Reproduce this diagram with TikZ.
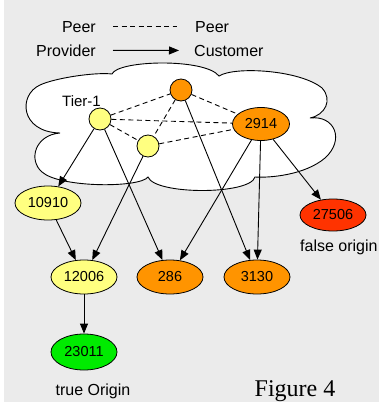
\documentclass[tikz,border=0pt]{standalone}
\usepackage{fontspec}
\setmainfont{Liberation Sans}
\newfontfamily\figfont{Liberation Serif}
\usepackage{xcolor}
\definecolor{bggray}{RGB}{235,235,235}
\definecolor{asyellow}{RGB}{255,255,128}
\definecolor{asorange}{RGB}{255,148,0}
\definecolor{asred}{RGB}{255,51,0}
\definecolor{asgreen}{RGB}{0,235,0}
\usetikzlibrary{shapes.geometric}
\usetikzlibrary{arrows.meta}
\usetikzlibrary{positioning}

\tikzset{
	asnode/.style={ellipse, draw=black, line width=0.8pt, minimum width=66pt, minimum height=34pt, inner sep=0pt, font=\fontsize{14.5}{14.5}\selectfont},
	tiernode/.style={circle, draw=black, line width=0.8pt, minimum size=22pt, inner sep=0pt},
	peerline/.style={line width=0.9pt, dash pattern=on 5pt off 3.5pt},
	custline/.style={line width=0.9pt, -{Triangle[length=10pt,width=8pt]}},
	lbl/.style={inner sep=0pt, font=\fontsize{16}{16}\selectfont}
}

\begin{document}
\begin{tikzpicture}[x=1pt,y=-1pt]
		%background
		\fill[bggray] (0,0) rectangle (379,402);
		\fill[white] (0,0) rectangle (4,402);
		\useasboundingbox (0,0) rectangle (379,402);

		%legend
		\node[lbl, anchor=base east] (lpeer) at (96,32) {Peer};
		\node[lbl, anchor=base west] (rpeer) at (195,32) {Peer};
		\node[lbl, anchor=base east] (provider) at (96,56) {Provider};
		\node[lbl, anchor=base west] (customer) at (194,56) {Customer};
		\draw[peerline, shorten <=17pt, shorten >=18pt] (lpeer.east) -- (rpeer.west);
		\draw[custline, shorten <=17pt, shorten >=15pt] (provider.east) -- (customer.west);

		%draw cloud
		\draw[fill=white, line width=0.9pt] (60,133)
			.. controls (20,132) and (18,95) .. (40,85)
			.. controls (55,78) and (95,72) .. (112,74)
			.. controls (118,60) and (205,58) .. (219,76)
			.. controls (235,66) and (300,70) .. (322,88)
			.. controls (333,100) and (325,115) .. (310,118)
			.. controls (335,115) and (345,140) .. (325,158)
			.. controls (305,175) and (270,178) .. (255,177)
			.. controls (250,195) and (155,195) .. (148,177)
			.. controls (140,188) and (60,188) .. (42,172)
			.. controls (28,160) and (35,135) .. (60,133) -- cycle;
		\node[lbl, font=\fontsize{15}{15}\selectfont, anchor=base west] (tierlbl) at (62,106) {Tier-1};

		%tier-1 ases
		\node[tiernode, fill=asyellow] (t1a) at (100,119) {};
		\node[tiernode, fill=asorange] (t1top) at (181,90) {};
		\node[tiernode, fill=asyellow] (t1b) at (148,146) {};
		\node[asnode, fill=asorange, minimum width=57pt, minimum height=33pt] (as2914) at (261,124) {2914};

		%other ases
		\node[asnode, fill=asyellow] (as10910) at (48,203) {10910};
		\node[asnode, fill=asred, minimum height=32pt] (as27506) at (333,215) {27506};
		\node[asnode, fill=asyellow] (as12006) at (84,277) {12006};
		\node[asnode, fill=asorange] (as286) at (170,277) {286};
		\node[asnode, fill=asorange] (as3130) at (257,277) {3130};
		\node[asnode, fill=asgreen, minimum height=36pt] (as23011) at (84,352) {23011};

		%peer links
		\draw[peerline] (t1a) -- (t1top);
		\draw[peerline] (t1a) -- (as2914);
		\draw[peerline] (t1a) -- (t1b);
		\draw[peerline] (t1top) -- (t1b);
		\draw[peerline] (t1top) -- (as2914);
		\draw[peerline] (t1b) -- (as2914);

		%provider -> customer links
		\draw[custline] (t1a) -- (as10910);
		\draw[custline] (t1a) -- (as286);
		\draw[custline] (t1b) -- (as12006);
		\draw[custline] (t1top) -- (as3130);
		\draw[custline] (as2914) -- (as286);
		\draw[custline] (as2914) -- (as3130);
		\draw[custline] (as2914) -- (as27506);
		\draw[custline] (as10910) -- (as12006);
		\draw[custline] (as12006) -- (as23011);

		%labels
		\node[lbl, anchor=base west] (falselbl) at (300,251) {false origin};
		\node[lbl, anchor=base] (truelbl) at (93,395) {true Origin};
		\node[inner sep=0pt, font=\figfont\fontsize{24}{24}\selectfont, anchor=base] (figlbl) at (295,396) {Figure 4};
	\end{tikzpicture}
\end{document}
